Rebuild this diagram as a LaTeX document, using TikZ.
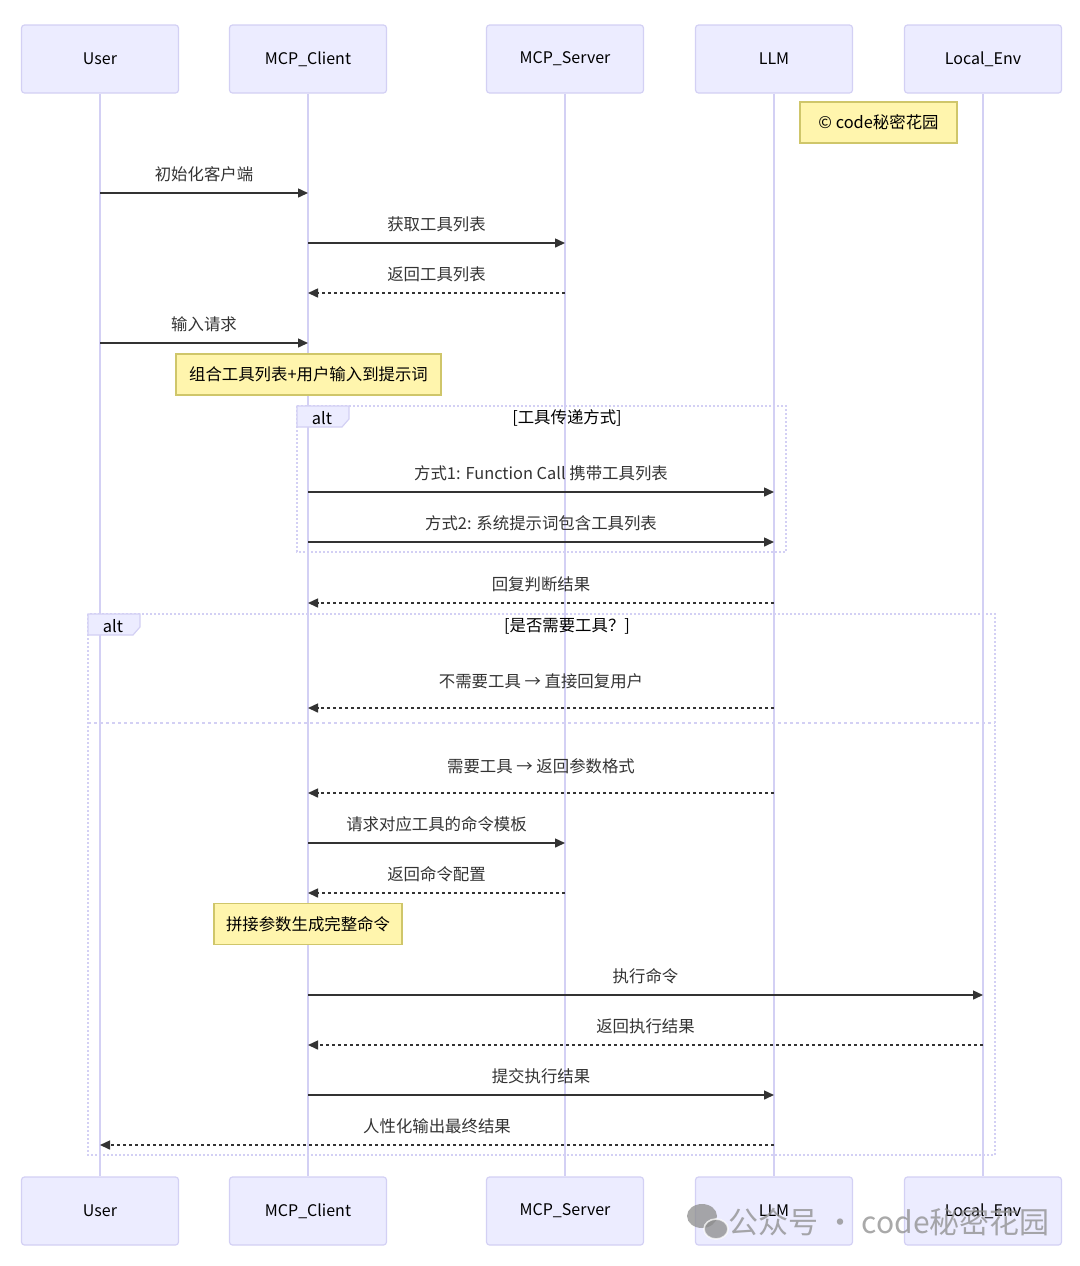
\documentclass[tikz,border=0pt]{standalone}
\usepackage{fontspec}
\setmainfont{Noto Sans CJK SC}
\usetikzlibrary{arrows.meta}
\definecolor{actorfill}{HTML}{ECECFF}
\definecolor{actorline}{HTML}{D3D0F4}
\definecolor{notefill}{HTML}{FFF5AD}
\definecolor{noteline}{HTML}{CFC66A}
\definecolor{msgline}{HTML}{333333}
\definecolor{markgray}{HTML}{8C8C8C}
\begin{document}
\begin{tikzpicture}[x=0.5pt, y=-0.5pt,
    actor/.style={draw=actorline, fill=actorfill, rounded corners=1.5pt,
        line width=0.6pt, minimum width=78.5pt, minimum height=34pt,
        font=\fontsize{8}{10}\selectfont},
    lifeline/.style={draw=actorline, line width=1pt},
    msg/.style={draw=msgline, line width=0.75pt, -{Triangle[length=5pt,width=4.5pt]}},
    reply/.style={msg, dash pattern=on 1.5pt off 1.5pt},
    msglabel/.style={midway, yshift=9.5pt, text=msgline,
        font=\fontsize{8.2}{10}\selectfont},
    note/.style={draw=noteline, fill=notefill, line width=0.6pt,
        minimum height=20.5pt, font=\fontsize{8.2}{10}\selectfont},
    altframe/.style={draw=actorline, line width=1pt, dash pattern=on 1pt off 1pt},
    altsplit/.style={draw=actorline, line width=1pt, dash pattern=on 1.5pt off 1.5pt},
    alttab/.style={fill=actorfill, draw=actorline, line width=0.6pt},
    alttext/.style={font=\fontsize{8.2}{10}\selectfont}
]
\useasboundingbox (0,0) rectangle (1080,1266);

% actors, top and bottom
\node[actor] (user)   at (100,59)  {User};
\node[actor] (client) at (308,59)  {MCP\_Client};
\node[actor] (server) at (565,59)  {MCP\_Server};
\node[actor] (llm)    at (774,59)  {LLM};
\node[actor] (env)    at (983,59)  {Local\_Env};
\node[actor] (userb)   at (100,1211) {User};
\node[actor] (clientb) at (308,1211) {MCP\_Client};
\node[actor] (serverb) at (565,1211) {MCP\_Server};
\node[actor] (llmb)    at (774,1211) {LLM};
\node[actor] (envb)    at (983,1211) {Local\_Env};

% lifelines
\draw[lifeline] (user) -- (userb);
\draw[lifeline] (client) -- (clientb);
\draw[lifeline] (server) -- (serverb);
\draw[lifeline] (llm) -- (llmb);
\draw[lifeline] (env) -- (envb);

% alt frames
\draw[altframe] (297,406) rectangle (786,552);
\filldraw[alttab] (297,406) -- (349,406) -- (349,419) -- (342,427) -- (297,427) -- cycle;
\node[alttext] (alt1) at (322,418) {alt};
\node[alttext] (cond1) at (567,418) {[工具传递方式]};

\draw[altframe] (88,614) rectangle (995,1155);
\draw[altsplit] (88,723) -- (995,723);
\filldraw[alttab] (88,614) -- (140,614) -- (140,627) -- (133,635) -- (88,635) -- cycle;
\node[alttext] (alt2) at (113,626) {alt};
\node[alttext] (cond2) at (567,626) {[是否需要工具？]};

% notes
\node[note, minimum width=78.5pt] (copy) at (878.5,122.5) {© code秘密花园};
\node[note, minimum width=132.5pt] (prompt) at (308.5,374.5) {组合工具列表+用户输入到提示词};
\node[note, minimum width=94pt] (concat) at (308,924) {拼接参数生成完整命令};

% messages
\draw[msg] (user |- 0,193) -- (client |- 0,193) node[msglabel] {初始化客户端};
\draw[msg] (client |- 0,243) -- (server |- 0,243) node[msglabel] {获取工具列表};
\draw[reply] (server |- 0,293) -- (client |- 0,293) node[msglabel] {返回工具列表};
\draw[msg] (user |- 0,343) -- (client |- 0,343) node[msglabel] {输入请求};
\draw[msg] (client |- 0,492) -- (llm |- 0,492) node[msglabel] {方式1: Function Call 携带工具列表};
\draw[msg] (client |- 0,542) -- (llm |- 0,542) node[msglabel] {方式2: 系统提示词包含工具列表};
\draw[reply] (llm |- 0,603) -- (client |- 0,603) node[msglabel] {回复判断结果};
\draw[reply] (llm |- 0,708) -- (client |- 0,708) node[msglabel, yshift=4pt] {不需要工具 → 直接回复用户};
\draw[reply] (llm |- 0,793) -- (client |- 0,793) node[msglabel, yshift=4pt] {需要工具 → 返回参数格式};
\draw[msg] (client |- 0,843) -- (server |- 0,843) node[msglabel] {请求对应工具的命令模板};
\draw[reply] (server |- 0,893) -- (client |- 0,893) node[msglabel] {返回命令配置};
\draw[msg] (client |- 0,995) -- (env |- 0,995) node[msglabel] {执行命令};
\draw[reply] (env |- 0,1045) -- (client |- 0,1045) node[msglabel] {返回执行结果};
\draw[msg] (client |- 0,1095) -- (llm |- 0,1095) node[msglabel] {提交执行结果};
\draw[reply] (llm |- 0,1145) -- (user |- 0,1145) node[msglabel] {人性化输出最终结果};

% watermark
\begin{scope}[opacity=0.75]
\fill[markgray] (702,1216) ellipse (15 and 12);
\filldraw[fill=markgray, draw=white, line width=0.8pt] (716,1229) ellipse (12 and 10);
\node[text=markgray, font=\fontsize{15}{18}\selectfont] (mark) at (889,1222) {公众号 · code秘密花园};
\end{scope}
\end{tikzpicture}
\end{document}
